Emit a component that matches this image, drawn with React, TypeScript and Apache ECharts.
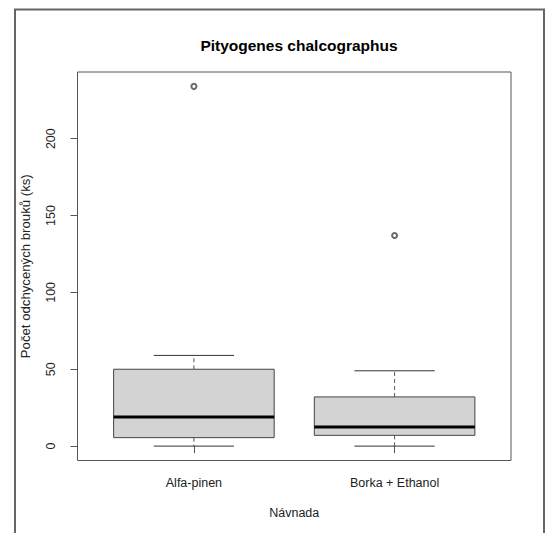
import React, { useEffect, useRef } from "react";
import * as echarts from "echarts";

// Bait types on the x axis
const categories = ["Alfa-pinen", "Borka + Ethanol"];
// Five-number summaries per bait (counts of beetles)
const whiskerLow = [0, 0];
const quartile1 = [5.5, 7];
const medians = [19, 12.5];
const quartile3 = [50, 32];
const whiskerHigh = [59, 49];
// Outlying catches: [category position, count]
const outliers: [number, number][] = [
  [1, 234],
  [2, 137],
];
const yTicks = [0, 50, 100, 150, 200];

const FONT = "'Liberation Sans', Arial, Helvetica, sans-serif";

export default function App() {
  const ref = useRef<HTMLDivElement>(null);

  useEffect(() => {
    if (!ref.current) return;
    const chart = echarts.init(ref.current, undefined, { renderer: "svg" });

    const boxData = categories.map((_, i) => [
      i + 1,
      whiskerLow[i],
      quartile1[i],
      medians[i],
      quartile3[i],
      whiskerHigh[i],
    ]);

    chart.setOption({
      animation: false,
      backgroundColor: "#ffffff",
      title: {
        text: "Pityogenes chalcographus",
        left: 294,
        top: 32,
        textAlign: "center",
        textStyle: {
          fontFamily: FONT,
          fontSize: 15.5,
          fontWeight: "bold",
          color: "#000",
        },
      },
      grid: {
        left: 77.5,
        right: 38,
        top: 72,
        bottom: 72.5,
        show: true,
        borderColor: "#555",
        borderWidth: 1,
        backgroundColor: "transparent",
      },
      xAxis: {
        type: "value",
        min: 0.42,
        max: 2.58,
        name: "Návnada",
        nameLocation: "middle",
        nameGap: 46,
        nameTextStyle: { fontFamily: FONT, fontSize: 12.5, color: "#222" },
        axisLine: { show: false },
        splitLine: { show: false },
        axisTick: {
          show: true,
          length: 7,
          customValues: [1, 2],
          lineStyle: { color: "#555" },
        },
        axisLabel: {
          customValues: [1, 2],
          margin: 16,
          fontFamily: FONT,
          fontSize: 12.5,
          color: "#222",
          formatter: (v: number) => categories[Math.round(v) - 1] ?? "",
        },
      },
      yAxis: {
        type: "value",
        min: -9.36,
        max: 243.36,
        name: "Počet odchycených brouků (ks)",
        nameLocation: "middle",
        nameGap: 46,
        nameTextStyle: { fontFamily: FONT, fontSize: 13.2, color: "#222" },
        axisLine: { show: false },
        splitLine: { show: false },
        axisTick: {
          show: true,
          length: 7,
          customValues: yTicks,
          lineStyle: { color: "#555" },
        },
        axisLabel: {
          customValues: yTicks,
          rotate: 90,
          margin: 20,
          fontFamily: FONT,
          fontSize: 12.5,
          color: "#222",
        },
      },
      graphic: [
        {
          type: "rect",
          shape: { x: 15, y: 9.5, width: 529, height: 540 },
          style: { fill: "none", stroke: "#666", lineWidth: 2 },
          silent: true,
        },
      ],
      series: [
        {
          type: "custom",
          data: boxData,
          clip: false,
          renderItem: (params: any, api: any) => {
            const x = api.value(0);
            const lo = api.value(1);
            const q1 = api.value(2);
            const med = api.value(3);
            const q3 = api.value(4);
            const hi = api.value(5);
            const pLeft = api.coord([x - 0.4, q3]);
            const pRight = api.coord([x + 0.4, q1]);
            const capL = api.coord([x - 0.2, 0])[0];
            const capR = api.coord([x + 0.2, 0])[0];
            const cx = api.coord([x, 0])[0];
            const yLo = api.coord([x, lo])[1];
            const yQ1 = api.coord([x, q1])[1];
            const yMed = api.coord([x, med])[1];
            const yQ3 = api.coord([x, q3])[1];
            const yHi = api.coord([x, hi])[1];
            const dash = { stroke: "#555", lineWidth: 1, lineDash: [4, 3] };
            const solid = { stroke: "#333", lineWidth: 1 };
            return {
              type: "group",
              children: [
                {
                  type: "line",
                  shape: { x1: cx, y1: yQ3, x2: cx, y2: yHi },
                  style: dash,
                },
                {
                  type: "line",
                  shape: { x1: cx, y1: yQ1, x2: cx, y2: yLo },
                  style: dash,
                },
                {
                  type: "line",
                  shape: { x1: capL, y1: yHi, x2: capR, y2: yHi },
                  style: solid,
                },
                {
                  type: "line",
                  shape: { x1: capL, y1: yLo, x2: capR, y2: yLo },
                  style: solid,
                },
                {
                  type: "rect",
                  shape: {
                    x: pLeft[0],
                    y: pLeft[1],
                    width: pRight[0] - pLeft[0],
                    height: pRight[1] - pLeft[1],
                  },
                  style: { fill: "#d3d3d3", stroke: "#444", lineWidth: 1 },
                },
                {
                  type: "line",
                  shape: { x1: pLeft[0], y1: yMed, x2: pRight[0], y2: yMed },
                  style: { stroke: "#000", lineWidth: 3 },
                },
              ],
            };
          },
        },
        {
          type: "scatter",
          data: outliers,
          symbol: "emptyCircle",
          symbolSize: 5,
          itemStyle: { color: "#444", borderWidth: 1 },
        },
      ],
    });

    return () => chart.dispose();
  }, []);

  return (
    <div
      ref={ref}
      style={{ position: "absolute", left: 0, top: 0, width: 549, height: 533 }}
    />
  );
}
